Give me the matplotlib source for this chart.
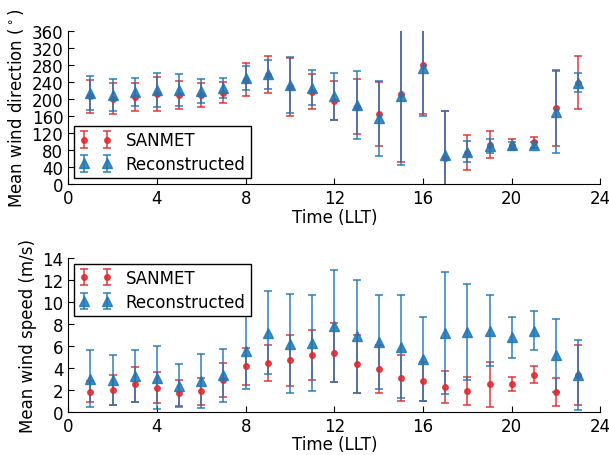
import matplotlib
matplotlib.use("Agg")
import matplotlib.pyplot as plt
import numpy as np

# hourly means (local time) and standard deviations
hours = np.arange(1, 24)

dir_sanmet = [206, 201, 205, 212, 210, 209, 215, 245, 257, 228, 217, 196, 182,
              164, 212, 280, 62, 74, 93, 93, 98, 179, 238]
dir_sanmet_sd = [38, 36, 33, 40, 33, 28, 25, 39, 43, 68, 41, 46, 64,
                 75, 160, 115, 110, 41, 31, 12, 12, 90, 62]
dir_recon = [214, 210, 216, 222, 221, 219, 226, 249, 258, 233, 227, 206, 186,
             155, 206, 272, 69, 76, 89, 91, 93, 169, 238]
dir_recon_sd = [40, 37, 33, 40, 37, 28, 24, 28, 34, 66, 42, 56, 81,
                88, 162, 111, 104, 25, 16, 8, 7, 97, 22]

spd_sanmet = [1.8, 2.0, 2.5, 2.2, 1.7, 1.85, 2.9, 4.12, 4.47, 4.67, 5.15, 5.37, 4.35,
              3.9, 3.1, 2.77, 2.27, 1.9, 2.5, 2.53, 3.37, 1.8, 3.36]
spd_sanmet_sd = [0.95, 1.37, 1.6, 1.4, 1.2, 1.25, 1.55, 1.72, 1.65, 2.36, 2.25, 2.69, 2.62,
                 2.17, 2.1, 1.8, 1.48, 1.25, 2.04, 0.67, 0.78, 1.25, 2.76]
spd_recon = [3.0, 2.9, 3.25, 3.1, 2.35, 2.78, 3.3, 5.57, 7.2, 6.2, 6.28, 7.8, 6.87,
             6.35, 5.93, 4.78, 7.13, 7.26, 7.37, 6.77, 7.38, 5.14, 3.36]
spd_recon_sd = [2.6, 2.3, 2.37, 2.9, 1.95, 2.45, 2.4, 3.5, 3.76, 4.5, 4.37, 5.14, 5.15,
                4.25, 4.66, 3.84, 5.55, 4.37, 3.23, 1.84, 1.75, 3.31, 3.2]

red = "#e0282d"
blue = "#1f77b4"

fig = plt.figure(figsize=(6.09, 4.56), dpi=100)
ax1 = fig.add_axes([0.112, 0.594, 0.874, 0.336])
ax2 = fig.add_axes([0.112, 0.095, 0.874, 0.337])


def draw(ax, s, s_sd, r, r_sd):
    ax.errorbar(hours, s, yerr=s_sd, fmt="o", color=red, ecolor=red, ms=4,
                mec=red, elinewidth=1.2, capsize=3, capthick=1.2, alpha=0.85,
                label="SANMET")
    ax.errorbar(hours, r, yerr=r_sd, fmt="^", color=blue, ecolor=blue, ms=7,
                mec=blue, elinewidth=1.2, capsize=3, capthick=1.2, alpha=0.85,
                label="Reconstructed")
    ax.set_xlim(0, 24)
    ax.set_xticks(range(0, 25, 4))
    ax.spines["top"].set_visible(False)
    ax.spines["right"].set_visible(False)
    ax.tick_params(direction="in", labelsize=12, length=4)
    ax.legend(numpoints=2, fancybox=False, fontsize=12, edgecolor="black",
              framealpha=1, borderaxespad=0.35, borderpad=0.3, labelspacing=0.35)


draw(ax1, dir_sanmet, dir_sanmet_sd, dir_recon, dir_recon_sd)
ax1.set_ylim(0, 360)
ax1.set_yticks(range(0, 361, 40))
ax1.set_xlabel("Time (LLT)", fontsize=12, labelpad=1)
ax1.set_ylabel(r"Mean wind direction ($^\circ$)", fontsize=12)
ax1.get_legend().set_loc("lower left")

draw(ax2, spd_sanmet, spd_sanmet_sd, spd_recon, spd_recon_sd)
ax2.set_ylim(0, 14)
ax2.set_yticks(range(0, 15, 2))
ax2.set_xlabel("Time (LLT)", fontsize=12, labelpad=0)
ax2.set_ylabel("Mean wind speed (m/s)", fontsize=12)
ax2.get_legend().set_loc("upper left")

fig.savefig("out.png", dpi=100)
